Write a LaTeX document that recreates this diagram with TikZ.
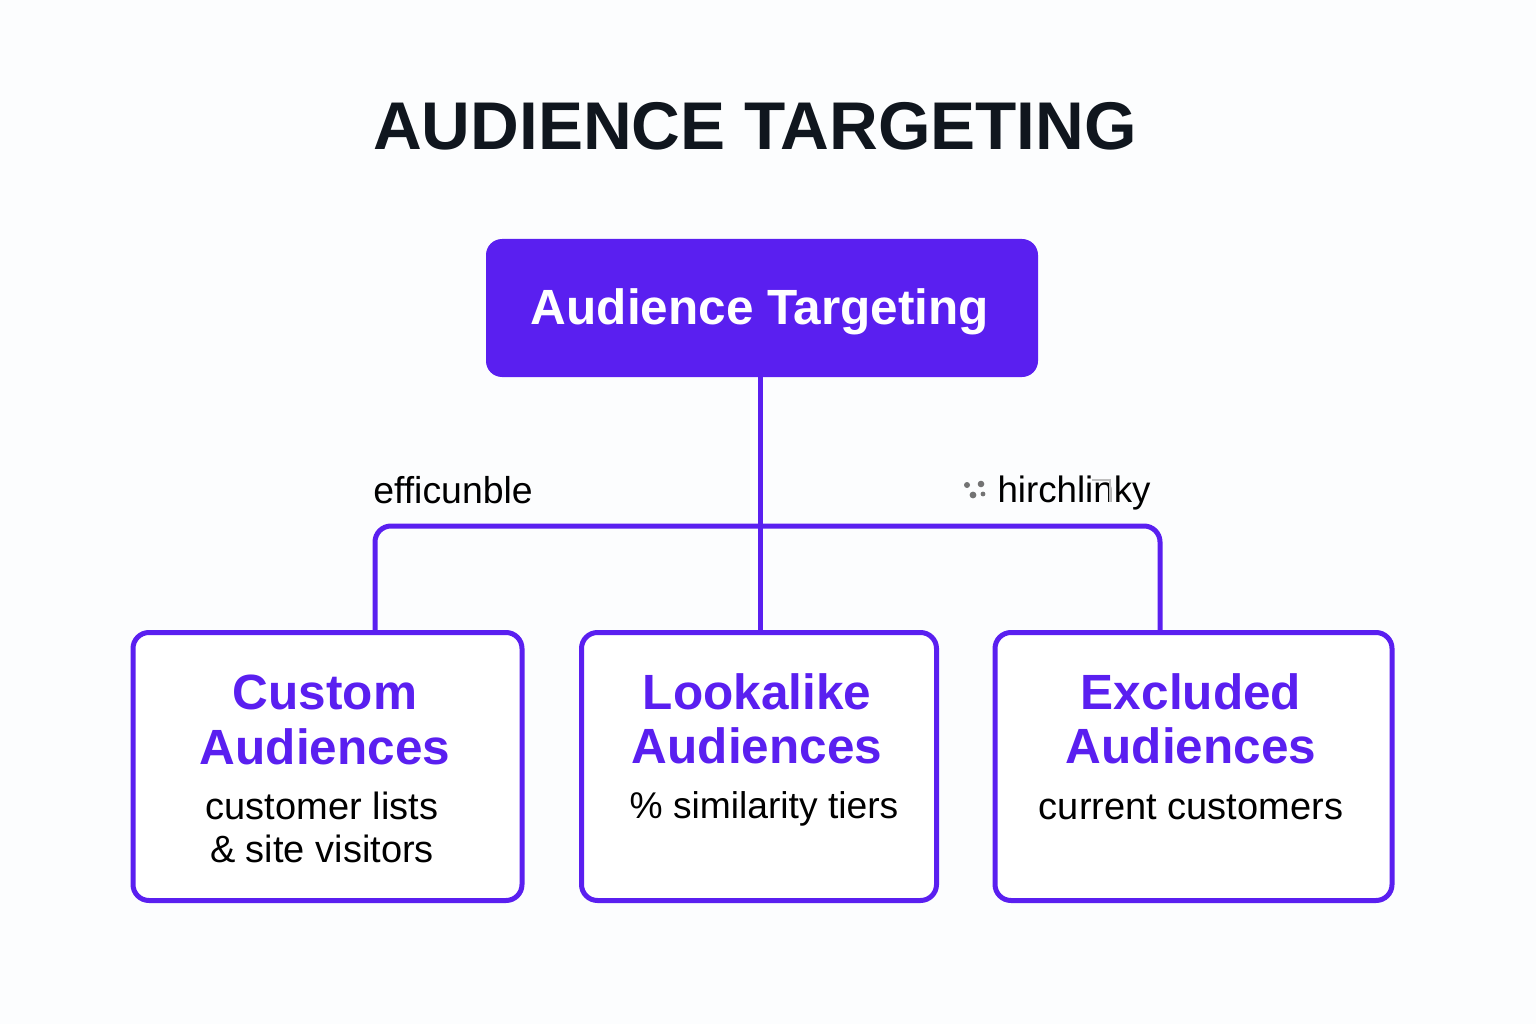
\documentclass[tikz,border=0pt]{standalone}
\usepackage{fontspec}
\setmainfont{Liberation Sans}
\definecolor{vio}{HTML}{5A1FF0}
\definecolor{ink}{HTML}{10161E}
\definecolor{bg}{HTML}{FCFDFE}
\begin{document}
\begin{tikzpicture}[x=1pt,y=-1pt,
 lab/.style={inner sep=0pt,anchor=center,align=center},
 head/.style={lab,font=\fontsize{49.5}{54.5}\selectfont\bfseries,text=vio},
 sub/.style={lab,font=\fontsize{38}{43}\selectfont,text=black},
 edge/.style={draw=vio,line width=5pt,line join=round},
 card/.style={draw=vio,line width=5pt,fill=white,rounded corners=16pt,inner sep=0pt}]
\useasboundingbox (0,0) rectangle (1536,1024);
\fill[bg] (0,0) rectangle (1536,1024);
\node[lab,font=\fontsize{67.5}{80}\selectfont\bfseries,text=ink] (title) at (755,126) {AUDIENCE TARGETING};
\node[fill=vio,rounded corners=16pt,minimum width=552pt,minimum height=138pt,inner sep=0pt] (root) at (762,308) {};
\node[lab,text=white,font=\fontsize{49.5}{60}\selectfont\bfseries] (rootlabel) at (760,312) {Audience Targeting};
\node[card,minimum width=389pt,minimum height=268pt] (c1) at (327.5,766.5) {};
\node[card,minimum width=355pt,minimum height=268pt] (c2) at (759,766.5) {};
\node[card,minimum width=397pt,minimum height=268pt] (c3) at (1193.5,766.5) {};
\coordinate (j) at (760,526);
\draw[edge] (root.south -| j) -- (j);
\draw[edge] (j) -- (c2.north -| j);
\draw[edge,rounded corners=16pt] (c1.north -| 375,0) -- (375,526) -- (1160,526) -- (c3.north -| 1160,0);
\node[head] (h1) at (325,720) {Custom\\Audiences};
\node[head] (h2) at (757,719) {Lookalike\\Audiences};
\node[head] (h3) at (1191,719) {Excluded\\Audiences};
\node[sub] (s1) at (322,827) {customer lists\\\& site visitors};
\node[sub,font=\fontsize{37.2}{43}\selectfont] (s2) at (764,809) {\% similarity tiers};
\node[sub] (s3) at (1191,807) {current customers};
\node[lab,font=\fontsize{37.4}{43}\selectfont] (l1) at (453,490) {efficunble};
\node[lab,font=\fontsize{36.7}{43}\selectfont,anchor=base] (l2) at (1074,502) {hirchlinky};
\draw[gray!50,line width=1.5pt] (1092,480) -- (1110,480) -- (1110,502);
\fill[gray!90!black] (967,485) circle (3pt) (981,484) circle (3.3pt) (973,495) circle (3.4pt) (983,494) circle (2.4pt);
\end{tikzpicture}
\end{document}
